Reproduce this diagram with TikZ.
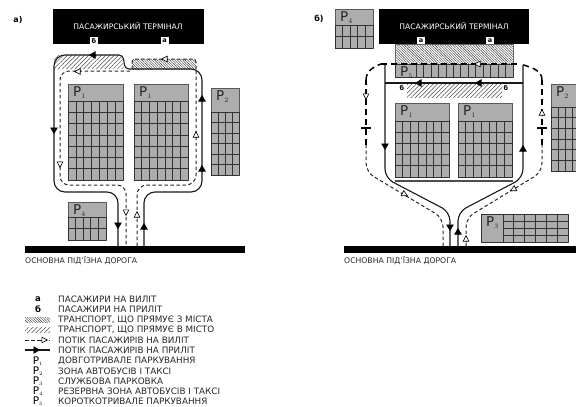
\documentclass[tikz,border=0pt]{standalone}
\usepackage{fontspec}
\setmainfont{DejaVu Sans}
\usetikzlibrary{arrows.meta,patterns.meta}

\tikzset{
    solidflow/.style={line width=1.1pt, black!90},
    dashflow/.style={line width=1pt, black!85, dash pattern=on 3.5pt off 2.5pt},
    boldflow/.style={line width=1.5pt, black, dash pattern=on 6pt off 4pt},
    solidtip/.style={-{Triangle[length=6.5pt,width=7.5pt,fill=black]}, line width=0.6pt, black},
    opentip/.style={-{Triangle[length=6.5pt,width=6.5pt,fill=white]}, line width=0.6pt, black},
    parkbox/.style={draw=black!65, line width=0.7pt, fill=black!32},
    gridline/.style={draw=black!80, line width=0.7pt},
    bigp/.style={font=\fontsize{13.5}{13.5}\selectfont, inner sep=0pt, black!85},
    door/.style={draw=none, fill=white, minimum width=8pt, minimum height=7pt, inner sep=0pt, font=\fontsize{6.5}{6.5}\selectfont\bfseries},
    termtext/.style={font=\fontsize{7.6}{8}\selectfont, white},
    small/.style={font=\fontsize{7.7}{8}\selectfont, anchor=west, inner sep=0pt, black!85},
    legtext/.style={font=\fontsize{8.8}{9}\selectfont, anchor=west, inner sep=0pt, black!85},
    panel/.style={font=\fontsize{8}{9}\selectfont\bfseries, inner sep=0pt},
    toairport/.style={pattern={Lines[angle=-45,distance=1.8pt,line width=0.4pt]}, pattern color=black!80},
    tocity/.style={pattern={Lines[angle=45,distance=3pt,line width=0.5pt]}, pattern color=black!70},
}

% x1 y1 x2 y2 (box), y of header, columns, rows, number
\newcommand{\parking}[8]{
    \draw[parkbox] (#1,#2) rectangle (#3,#4);
    \foreach \c in {0,...,#6} {
        \draw[gridline] ({#1+(#3-#1)*\c/#6},#5) -- ({#1+(#3-#1)*\c/#6},#4);
    }
    \foreach \r in {0,...,#7} {
        \draw[gridline] (#1,{#5+(#4-#5)*\r/#7}) -- (#3,{#5+(#4-#5)*\r/#7});
    }
    \node[bigp, anchor=north west] at ({#1+5},{#2+2}) {P$_{\scriptscriptstyle #8}$};
}
\newcommand{\uptip}[3]{\draw[#1] (#2,#3+3) -- (#2,#3-3);}
\newcommand{\downtip}[3]{\draw[#1] (#2,#3-3) -- (#2,#3+3);}
\newcommand{\lefttip}[3]{\draw[#1] (#2+3,#3) -- (#2-3,#3);}

\begin{document}
\begin{tikzpicture}[x=1pt,y=-1pt]
    \useasboundingbox (0,0) rectangle (576,407);

    % panel a
    \node[panel] (lblA) at (18,20) {а)};
    \fill[black] (53,9) rectangle (204,44);
    \node[termtext] (termA) at (128,26) {ПАСАЖИРСЬКИЙ ТЕРМІНАЛ};
    \node[door] (doorAb) at (94,40.5) {б};
    \node[door] (doorAa) at (164.5,40.5) {а};

    \fill[tocity] (54,69) -- (54,61) [rounded corners=4] -- (54,55) -- (122,55) [sharp corners] -- (124,69) -- cycle;
    \fill[toairport] (132,69) -- (132,59) -- (196,59) -- (196,69) -- cycle;

    \parking{68}{84}{123}{180}{101}{7}{7}{1}
    \parking{134}{84}{188}{180}{101}{7}{7}{1}
    \parking{211}{88}{239}{175}{112}{4}{6}{2}
    \parking{68}{202}{106}{240}{217}{5}{2}{4}

    \coordinate (aOutS) at (144,246);
    \coordinate (aInS) at (118,246);
    \coordinate (aOutD) at (137,246);
    \coordinate (aInD) at (126,246);

    \draw[solidflow, rounded corners=11] (aOutS) -- (144,192) -- (202,192) -- (202,69) -- (129,69);
    \draw[solidflow, rounded corners=4] (129,69) -- (125,69) -- (123,55) -- (110,55);
    \draw[solidflow, rounded corners=11] (110,55) -- (54,55) -- (54,192) -- (118,192) -- (aInS);
    \draw[dashflow, rounded corners=10] (aOutD) -- (137,185) -- (196,185) -- (196,69);
    \draw[dashflow, rounded corners=3] (196,69) -- (196,59) -- (132,59) -- (132,69);
    \draw[dashflow, rounded corners=9] (130,71) -- (60,71) -- (60,185) -- (126,185) -- (aInD);

    \uptip{solidtip}{202}{98}
    \uptip{solidtip}{202}{168}
    \uptip{solidtip}{144}{226}
    \downtip{solidtip}{118}{226}
    \downtip{solidtip}{54}{131}
    \lefttip{solidtip}{92}{55}
    \uptip{opentip}{196}{134}
    \downtip{opentip}{60}{165}
    \downtip{opentip}{126}{213}
    \uptip{opentip}{137}{214}
    \lefttip{opentip}{164}{59}
    \lefttip{opentip}{77}{71.5}

    \fill[black] (25,246) rectangle (245,253);
    \node[small] (roadA) at (25,261) {ОСНОВНА ПІД'ЇЗНА ДОРОГА};

    % panel b
    \node[panel] (lblB) at (319,19) {б)};
    \fill[black] (379,9) rectangle (529,44);
    \node[termtext] (termB) at (454,26) {ПАСАЖИРСЬКИЙ ТЕРМІНАЛ};
    \node[door] (doorBa) at (421,40.5) {а};
    \node[door] (doorBc) at (490,40.5) {а};

    \fill[toairport] (395,44) rectangle (513,64);
    \draw[black!60, line width=0.5pt] (395,44) rectangle (513,64);
    \parking{395}{64}{513}{77}{64}{1}{1}{5}
    \foreach \c in {0,...,13} {
        \draw[gridline] ({416+97*\c/13},64) -- ({416+97*\c/13},77);
    }
    \fill[tocity] (407,84) rectangle (502,97);

    \parking{395}{103}{449}{177}{121}{7}{5}{1}
    \parking{458}{103}{512}{177}{121}{7}{5}{1}
    \parking{551}{84}{580}{171}{107}{4}{6}{2}
    \parking{335}{9}{373}{48}{25}{5}{2}{4}
    \parking{481}{214}{568}{242}{214}{1}{1}{3}
    \draw[gridline] (503,214) -- (503,242);
    \foreach \c in {1,...,5} {
        \draw[gridline] ({503+65*\c/6},214) -- ({503+65*\c/6},242);
    }
    \foreach \r in {1,2,3} {
        \draw[gridline] (503,{214+7*\r}) -- (568,{214+7*\r});
    }

    \coordinate (bInS) at (450,246);
    \coordinate (bOutS) at (458,246);
    \coordinate (bInD) at (443,246);
    \coordinate (bOutD) at (466,246);

    \draw[solidflow, rounded corners=9] (385,65) -- (385,178) -- (450,212) -- (bInS);
    \draw[solidflow, rounded corners=9] (bOutS) -- (458,212) -- (523,178) -- (523,65);
    \draw[solidflow] (385,83) -- (523,83);
    \draw[solidflow, black!70] (395,181) -- (513,181);
    \draw[dashflow, rounded corners=9] (bInD) -- (443,218) -- (366,172) -- (366,145);
    \draw[dashflow, rounded corners=9] (bOutD) -- (466,218) -- (542,172) -- (542,145);
    \draw[boldflow] (366,145) -- (366,80);
    \draw[boldflow] (542,145) -- (542,80);
    \draw[boldflow] (366,80) to[out=90,in=200] (381,64);
    \draw[boldflow] (542,80) to[out=90,in=-20] (521,64);
    \draw[boldflow] (381,64) -- (517,64);

    \draw[line width=1.2pt] (361,128) -- (371,128);
    \draw[line width=1.2pt] (537,128) -- (547,128);

    \downtip{solidtip}{385}{147}
    \uptip{solidtip}{523}{148}
    \downtip{solidtip}{450}{228}
    \uptip{solidtip}{458}{231}
    \lefttip{solidtip}{418}{83}
    \lefttip{solidtip}{478}{83}
    \downtip{opentip}{366}{97}
    \uptip{opentip}{542}{112}
    \uptip{opentip}{466}{238}
    \lefttip{opentip}{477}{64}
    \draw[opentip] (402,193) -- (408,196);
    \draw[opentip] (516,188) -- (510,191);

    \node[door, fill=none] (doorBb) at (402,88) {б};
    \node[door, fill=none] (doorBd) at (506,88) {б};

    \fill[black] (344,246) rectangle (576,253);
    \node[small] (roadB) at (344,261) {ОСНОВНА ПІД'ЇЗНА ДОРОГА};

    % legend
    \foreach \ly/\lt [count=\i] in {
        299/ПАСАЖИРИ НА ВИЛІТ,
        309/ПАСАЖИРИ НА ПРИЛІТ,
        320/{ТРАНСПОРТ, ЩО ПРЯМУЄ З МІСТА},
        330/{ТРАНСПОРТ, ЩО ПРЯМУЄ В МІСТО},
        340/ПОТІК ПАСАЖИРІВ НА ВИЛІТ,
        350/ПОТІК ПАСАЖИРІВ НА ПРИЛІТ,
        361/ДОВГОТРИВАЛЕ ПАРКУВАННЯ,
        371/ЗОНА АВТОБУСІВ І ТАКСІ,
        381/СЛУЖБОВА ПАРКОВКА,
        391/РЕЗЕРВНА ЗОНА АВТОБУСІВ І ТАКСІ,
        401/КОРОТКОТРИВАЛЕ ПАРКУВАННЯ} {
        \node[legtext] (leg\i) at (58,\ly) {\lt};
    }
    \node[inner sep=0pt, font=\fontsize{8.5}{9}\selectfont\bfseries] (symA) at (38,299) {а};
    \node[inner sep=0pt, font=\fontsize{8.5}{9}\selectfont\bfseries] (symB) at (38,309) {б};
    \fill[toairport] (25,317.5) rectangle (50,322.5);
    \fill[tocity] (25,327.5) rectangle (50,332.5);
    \coordinate (legDa) at (25,340);
    \coordinate (legDb) at (50,340);
    \coordinate (legSa) at (25,350);
    \coordinate (legSb) at (50,350);
    \draw[dashflow] (legDa) -- (legDb);
    \draw[solidflow] (legSa) -- (legSb);
    \draw[opentip] (41,340) -- (48,340);
    \draw[solidtip] (33,350) -- (40,350);
    \foreach \ly/\ln in {361/1,371/2,381/3,391/4,401/5} {
        \node[inner sep=0pt, font=\fontsize{10.5}{10.5}\selectfont] (sym\ln) at (38,\ly) {P$_{\scriptscriptstyle \ln}$};
    }
\end{tikzpicture}
\end{document}
